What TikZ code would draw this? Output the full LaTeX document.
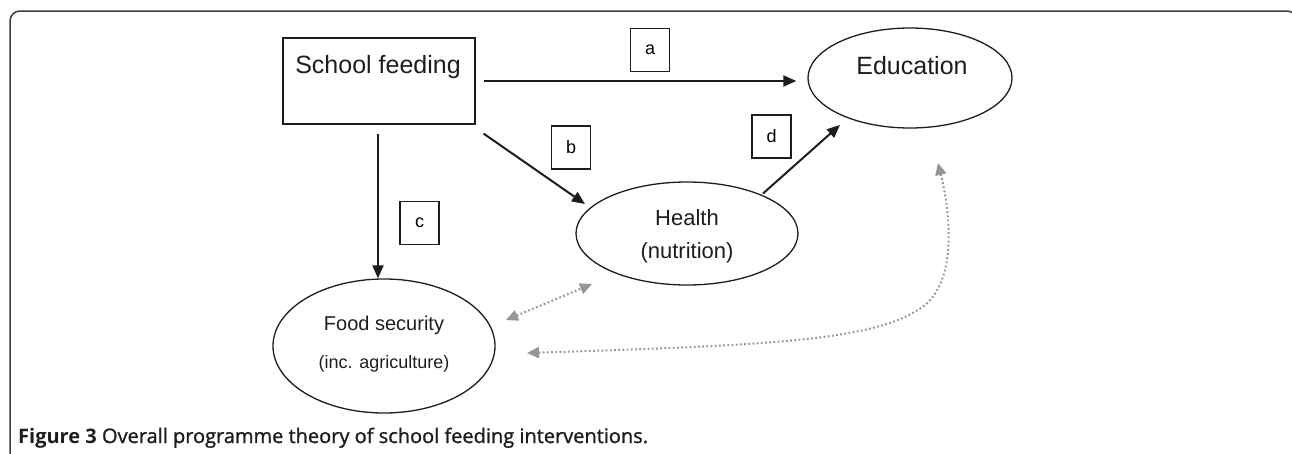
\documentclass[tikz,border=0pt]{standalone}
\usepackage{fontspec}
\setmainfont{Liberation Sans}
\newfontfamily\capfont{Open Sans}[FakeBold=1.2]
\newfontfamily\capboldfont{Open Sans Bold}
\usetikzlibrary{shapes.geometric,arrows.meta,calc}
\definecolor{ink}{RGB}{30,28,28}
\definecolor{framegray}{RGB}{60,60,60}
\definecolor{linkgray}{RGB}{150,150,150}

\begin{document}
\begin{tikzpicture}[x=1pt,y=-1pt,
  outline/.style={draw=ink,line width=1.3pt,inner sep=0pt},
  oval/.style={outline,ellipse},
  tag/.style={draw=ink,line width=1.1pt,rectangle,inner sep=0pt,
    minimum width=39pt,minimum height=43pt,font=\fontsize{18}{20}\selectfont},
  flow/.style={draw=ink,line width=2pt,-{Triangle[length=13pt,width=11pt]}},
  link/.style={draw=linkgray,line width=2pt,dash pattern=on 1.8pt off 2.4pt,
    {Triangle[length=12pt,width=11pt]}-{Triangle[length=12pt,width=11pt]}},
  txt/.style={text=ink,anchor=base,inner sep=0pt}
]
\useasboundingbox (0,0) rectangle (1292,453);

% figure frame, open at the bottom and right
\begin{scope}
  \clip (0,0) rectangle (1292,453);
  \draw[framegray,line width=1.5pt,rounded corners=10pt]
    (10,480) -- (10,11) -- (1297,11) -- (1297,480);
\end{scope}

% boxes and ovals
\node[outline,rectangle,minimum width=192pt,minimum height=86pt] (sf) at (379,81) {};
\node[txt,font=\fontsize{25}{30}\selectfont] (sftext) at (378,73) {School feeding};

\node[oval,minimum width=204pt,minimum height=100pt] (edu) at (910,78) {};
\node[txt,font=\fontsize{25}{30}\selectfont] (edutext) at (912,74) {Education};

\node[oval,minimum width=222pt,minimum height=103pt] (hl) at (687,233.5) {};
\node[txt,font=\fontsize{22}{26}\selectfont] (hltext) at (687,225) {Health};
\node[txt,font=\fontsize{22}{26}\selectfont] (hlsub) at (687,258) {(nutrition)};

\node[oval,minimum width=222pt,minimum height=134pt] (fs) at (384,346) {};
\node[txt,font=\fontsize{20}{24}\selectfont] (fstext) at (384,330) {Food security};
\node[txt,font=\fontsize{18}{22}\selectfont] (fssub) at (384,368) {(inc. agriculture)};

% path labels
\node[tag] (la) at (650,50) {a};
\node[tag] (lb) at (571,147.5) {b};
\node[tag] (lc) at (419.5,223) {c};
\node[tag] (ld) at (771.5,136.5) {d};

% causal paths
\draw[flow,shorten <=8pt,shorten >=11pt] (sf.east) -- (sf.east -| edu.west);
\draw[flow] ($(sf.south east)+(8,9)$) -- ($(hl.center)+(-102,-29.5)$);
\draw[flow] ($(sf.south)+(-1,9)$) -- ($(sf.south |- fs.north)+(-1,0)$);
\draw[flow] ($(hl.center)+(76,-40)$) -- ($(edu.center)+(-70,47)$);

% two-way links between outcomes
\draw[link] ($(fs.center)+(122,-26)$) -- ($(hl.center)+(-95,50.5)$);
\draw[link] ($(fs.center)+(143,7)$)
  .. controls ($(fs.center)+(396,-1)$) and ($(edu.center)+(-30,262)$) .. ($(edu.center)+(15,227)$)
  .. controls ($(edu.center)+(45,202)$) and ($(edu.center)+(42,142)$) .. ($(edu.center)+(28,85)$);

% caption
\node[anchor=base west,inner sep=0pt,text=ink,font=\capfont\fontsize{20}{24}\selectfont]
  (cap) at (18,443) {{\capboldfont Figure 3} Overall programme theory of school feeding interventions.};
\end{tikzpicture}
\end{document}
